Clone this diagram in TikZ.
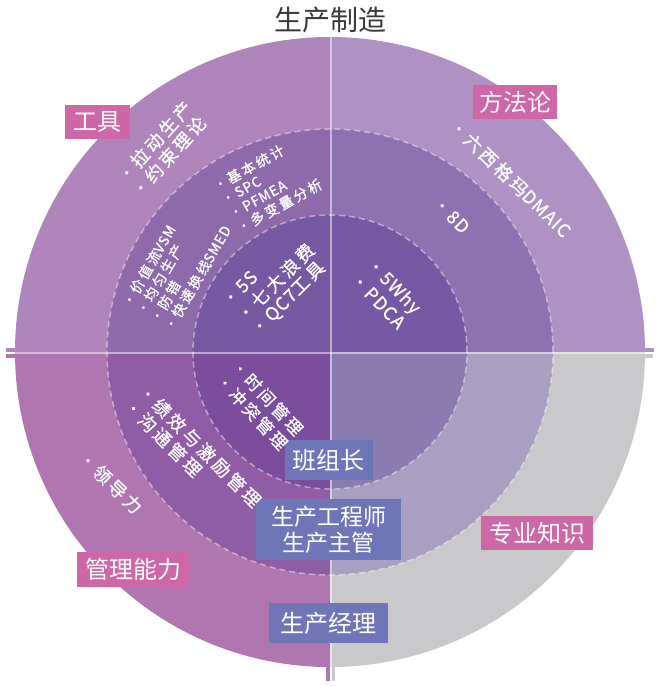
\documentclass[tikz,border=0pt]{standalone}
\usepackage{fontspec}
\setmainfont{Noto Sans CJK SC}
\newfontfamily\itemfont[LetterSpace=17,FakeBold=0.6]{Noto Sans CJK SC}
\newfontfamily\itemlatin[LetterSpace=6,FakeBold=0.6]{Noto Sans CJK SC}
\newcommand\lat[1]{{\itemlatin #1}}
\definecolor{tlO}{HTML}{AE86BB}
\definecolor{tlM}{HTML}{8E6AAB}
\definecolor{tlI}{HTML}{7658A3}
\definecolor{trO}{HTML}{AF91C4}
\definecolor{trM}{HTML}{8D71B0}
\definecolor{trI}{HTML}{7559A4}
\definecolor{blO}{HTML}{B076B0}
\definecolor{blM}{HTML}{8F5DA6}
\definecolor{blI}{HTML}{7A4D9D}
\definecolor{brO}{HTML}{C9C9CB}
\definecolor{brM}{HTML}{A99FC0}
\definecolor{brI}{HTML}{8B7CB0}
\definecolor{tagpink}{HTML}{CE67A5}
\definecolor{roleblue}{HTML}{6E76B8}
\definecolor{titlegray}{HTML}{3A3A3A}
\begin{document}
\begin{tikzpicture}[x=1pt,y=-1pt,
  bigitem/.style={text=white,inner sep=0pt,outer sep=0pt,anchor=west,font=\itemfont\fontsize{18}{18}\selectfont},
  smallitem/.style={text=white,inner sep=0pt,outer sep=0pt,anchor=west,font=\itemfont\fontsize{14}{14}\selectfont},
  tagbox/.style={fill=tagpink,text=white,inner sep=0pt,minimum height=34pt,font=\fontsize{24}{24}\selectfont},
  rolebox/.style={fill=roleblue,text=white,inner sep=0pt,align=center,font=\fontsize{24}{26}\selectfont},
  ringdash/.style={draw=white,draw opacity=0.45,line width=1.5pt,dash pattern=on 6pt off 4pt},
  crossline/.style={draw=white,draw opacity=0.5,line width=2pt}]
\useasboundingbox (0,0) rectangle (661,686);
\coordinate (C) at (330,352);
% quadrants
\begin{scope}
  \clip (0,0) rectangle (330,352.5);
  \fill[tlO] (C) circle[radius=315pt];
  \fill[tlM] (C) circle[radius=223pt];
  \fill[tlI] (C) circle[radius=137pt];
\end{scope}
\begin{scope}
  \clip (330,0) rectangle (661,352.5);
  \fill[trO] (C) circle[radius=315pt];
  \fill[trM] (C) circle[radius=223pt];
  \fill[trI] (C) circle[radius=137pt];
\end{scope}
\begin{scope}
  \clip (0,352.5) rectangle (330,686);
  \fill[blO] (C) circle[radius=315pt];
  \fill[blM] (C) circle[radius=223pt];
  \fill[blI] (C) circle[radius=137pt];
\end{scope}
\begin{scope}
  \clip (330,352.5) rectangle (661,686);
  \fill[brO] (C) circle[radius=315pt];
  \fill[brM] (C) circle[radius=223pt];
  \fill[brI] (C) circle[radius=137pt];
\end{scope}
% stubs of the cross
\fill[tlO] (6,347.5) rectangle (16,351.5);
\fill[blO] (6,353.5) rectangle (16,357.5);
\fill[trO] (644,347.5) rectangle (654,351.5);
\fill[brO] (644,353.5) rectangle (653,357.5);
\fill[blO] (325.5,665) rectangle (329.5,681);
\fill[brO] (331.5,665) rectangle (335,681);
% dashed ring borders
\draw[ringdash] (C) circle[radius=223pt];
\draw[ringdash] (C) circle[radius=137pt];
% cross lines
\draw[crossline] (330.5,37) -- (330.5,682);
\draw[crossline] (5,352.5) -- (656,352.5);
% title
\node[text=titlegray,font=\fontsize{28}{28}\selectfont] (title) at (330,20) {生产制造};
% category tags
\node[tagbox,minimum width=65pt] (tools) at (97,122) {工具};
\node[tagbox,minimum width=84pt] (method) at (515,102) {方法论};
\node[tagbox,minimum width=112pt,minimum height=35pt] (mgmt) at (133,569.5) {管理能力};
\node[tagbox,minimum width=112pt] (know) at (537,533) {专业知识};
% role boxes
\node[rolebox,minimum width=88pt,minimum height=40pt] (leader) at (328.5,460) {班组长};
\node[rolebox,minimum width=145pt,minimum height=61pt,font=\fontsize{23}{26}\selectfont] (engineer) at (328.5,529.5) {生产工程师\\生产主管};
\node[rolebox,minimum width=119pt,minimum height=40pt] (manager) at (328.5,623) {生产经理};
% top-left: tools
\node[bigitem,rotate=48] (a1) at (120.7,179.5) {•\hspace{2pt}拉动生产};
\node[bigitem,rotate=48] (a2) at (134.7,194.5) {•\hspace{2pt}约束理论};
\node[smallitem,rotate=29] (b1) at (214.3,187) {•\hspace{1.5pt}基本统计};
\node[smallitem,rotate=29] (b2) at (222.1,201) {•\hspace{1.5pt}\lat{SPC}};
\node[smallitem,rotate=29] (b3) at (229.9,215) {•\hspace{1.5pt}\lat{PFMEA}};
\node[smallitem,rotate=29] (b4) at (237.7,229) {•\hspace{1.5pt}多变量分析};
\node[smallitem,rotate=60] (c1) at (126,305.7) {•\hspace{1.5pt}价值流\lat{VSM}};
\node[smallitem,rotate=60] (c2) at (139.9,313.7) {•\hspace{1.5pt}均匀生产};
\node[smallitem,rotate=60] (c3) at (153.8,321.7) {•\hspace{1.5pt}防错};
\node[smallitem,rotate=60] (c4) at (167.7,329.7) {•\hspace{1.5pt}快速换线\lat{SMED}};
\node[bigitem,rotate=45] (d1) at (224.6,303.4) {•\hspace{2pt}\lat{5S}};
\node[bigitem,rotate=45] (d2) at (239.5,318.3) {•\hspace{2pt}七大浪费};
\node[bigitem,rotate=45] (d3) at (254.3,333.1) {•\hspace{2pt}\lat{QC7}工具};
% top-right: methodology
\node[bigitem,rotate=-44] (e1) at (452.6,122.6) {•\hspace{2pt}六西格玛\lat{DMAIC}};
\node[bigitem,rotate=-45] (f1) at (435.6,199.6) {•\hspace{2pt}\lat{8D}};
\node[bigitem,rotate=-46] (g1) at (368.6,261.6) {•\hspace{2pt}\lat{5Why}};
\node[bigitem,rotate=-46] (g2) at (353.9,275.8) {•\hspace{2pt}\lat{PDCA}};
% bottom-left: management
\node[bigitem,rotate=-47,font=\itemfont\fontsize{17}{17}\selectfont] (h1) at (234.6,362.6) {•\hspace{2pt}时间管理};
\node[bigitem,rotate=-47,font=\itemfont\fontsize{17}{17}\selectfont] (h2) at (219.2,376.9) {•\hspace{2pt}冲突管理};
\node[bigitem,rotate=-45] (i1) at (141.6,387.6) {•\hspace{2pt}绩效与激励管理};
\node[bigitem,rotate=-45] (i2) at (127.1,402.1) {•\hspace{2pt}沟通管理};
\node[bigitem,rotate=-44] (j1) at (81.6,454.6) {•\hspace{2pt}领导力};
\end{tikzpicture}
\end{document}
